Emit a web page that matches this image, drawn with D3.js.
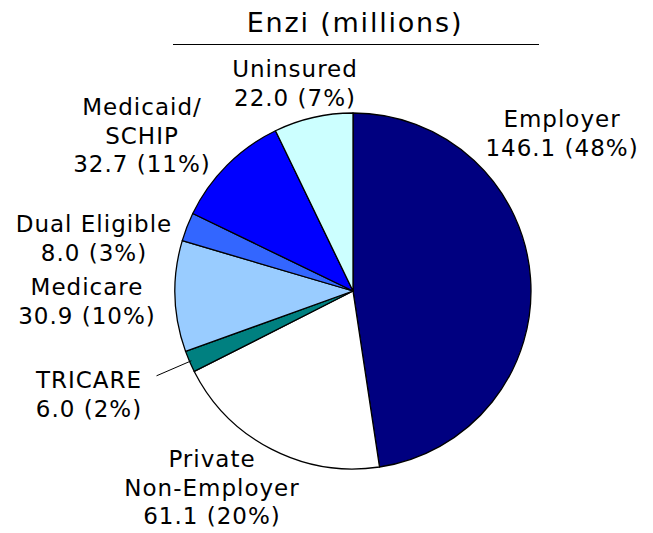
<!DOCTYPE html>
<html>
<head>
<meta charset="utf-8">
<script src="https://d3js.org/d3.v7.min.js"></script>
<style>
  body { margin: 0; background: #fff; }
  text { font-family: "DejaVu Sans", Verdana, sans-serif; fill: #000; }
</style>
</head>
<body>
<div id="chart"></div>
<script>
var width = 653,
    height = 533;

// data
var categories = ["Employer", "Private\nNon-Employer", "TRICARE", "Medicare", "Dual Eligible", "Medicaid/\nSCHIP", "Uninsured"];
var values = [146.1, 61.1, 6.0, 30.9, 8.0, 32.7, 22.0];
var colors = ["#000080", "#ffffff", "#008080", "#99ccff", "#3366ff", "#0000ff", "#ccffff"];

// label anchors (centre x, first baseline)
var labelPos = [[562, 127], [212, 467], [89, 388], [87, 295], [94, 232], [142, 115], [295, 77]];

var cx = 353, cy = 291, radius = 178;
var total = d3.sum(values);

var svg = d3.select("#chart").append("svg")
    .attr("width", width)
    .attr("height", height);

svg.append("rect").attr("width", width).attr("height", height).attr("fill", "#fff");

// title
svg.append("text")
    .attr("x", 355)
    .attr("y", 32)
    .attr("text-anchor", "middle")
    .style("font-size", "27px")
    .style("letter-spacing", "1.8px")
    .text("Enzi (millions)");

svg.append("line")
    .attr("x1", 173).attr("x2", 539)
    .attr("y1", 44.5).attr("y2", 44.5)
    .attr("stroke", "#000")
    .attr("stroke-width", 1.2);

var pie = d3.pie().sort(null).value(function(d) { return d; });
var arcs = pie(values);
var arc = d3.arc().innerRadius(0).outerRadius(radius);

var g = svg.append("g").attr("transform", "translate(" + cx + "," + cy + ")");

g.selectAll("path.slice").data(arcs)
  .enter().append("path")
    .attr("class", "slice")
    .attr("d", arc)
    .attr("fill", function(d, i) { return colors[i]; })
    .attr("stroke", "#000")
    .attr("stroke-width", 1.3)
    .attr("stroke-linejoin", "round");

// leader line for the thin TRICARE slice
var tri = arcs[2];
var mid = (tri.startAngle + tri.endAngle) / 2;
g.append("line")
    .attr("x1", Math.sin(mid) * (radius + 36))
    .attr("y1", -Math.cos(mid) * (radius + 36))
    .attr("x2", Math.sin(mid) * (radius - 2))
    .attr("y2", -Math.cos(mid) * (radius - 2))
    .attr("stroke", "#000")
    .attr("stroke-width", 1);

var fmt = d3.format(".1f");

var labels = svg.append("g").attr("class", "labels")
    .selectAll("text").data(arcs)
  .enter().append("text")
    .attr("text-anchor", "middle")
    .style("font-size", "23px")
    .style("letter-spacing", "1px")
    .attr("transform", function(d, i) {
      return "translate(" + labelPos[i][0] + "," + labelPos[i][1] + ")";
    });

labels.each(function(d, i) {
  var lines = categories[i].split("\n");
  lines.push(fmt(values[i]) + " (" + Math.round(values[i] / total * 100) + "%)");
  var t = d3.select(this);
  lines.forEach(function(s, k) {
    t.append("tspan")
      .attr("x", 0)
      .attr("y", k * 28.5)
      .text(s);
  });
});
</script>
</body>
</html>
